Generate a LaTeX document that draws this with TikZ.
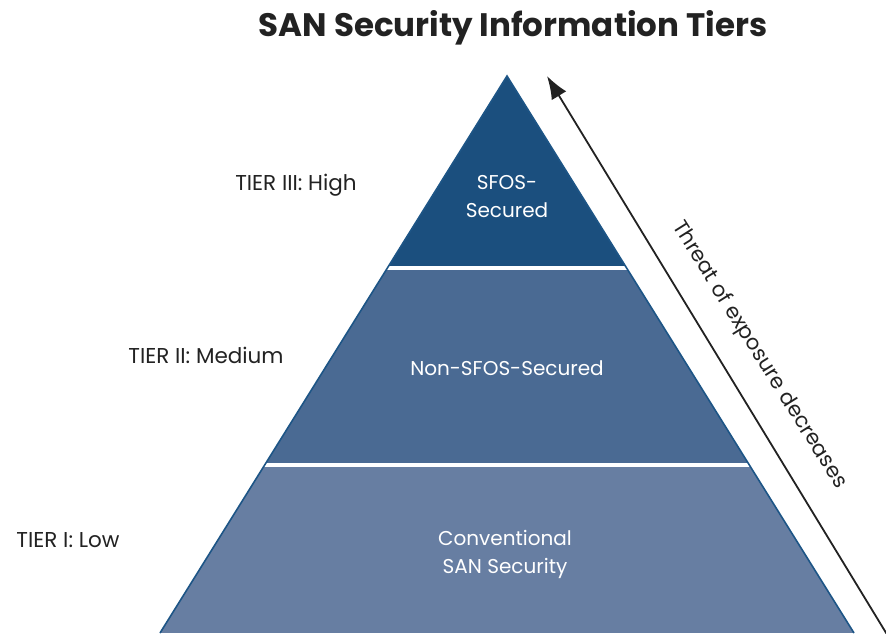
\documentclass[tikz,border=0pt]{standalone}
\usepackage{fontspec}
\setmainfont{Poppins}
\usetikzlibrary{arrows.meta}
\definecolor{tierhigh}{HTML}{1B4F7E}
\definecolor{tiermed}{HTML}{4A6A93}
\definecolor{tierlow}{HTML}{677EA2}
\definecolor{rim}{HTML}{1D5586}
\definecolor{ink}{HTML}{222222}
\tikzset{
  tierlabel/.style={text=ink,font=\fontsize{21.5}{25}\selectfont},
  tiertext/.style={text=white,align=center,font=\fontsize{20}{28}\selectfont},
  threat/.style={ink,line width=1.8pt,-{Latex[length=23pt,width=17pt]}}
}
\begin{document}
\begin{tikzpicture}[x=1pt,y=-1pt]
	  \useasboundingbox (0,0) rectangle (886,633);
	  % pyramid corners
	  \coordinate (apex) at (507,76);
	  \coordinate (bl) at (160,633);
	  \coordinate (br) at (854,633);
	  \begin{scope}
	    \clip (apex) -- (bl) -- (br) -- cycle;
	    \fill[tierlow] (0,465) rectangle (886,633);
	    \fill[tiermed] (0,268) rectangle (886,465);
	    \fill[tierhigh] (0,60) rectangle (886,268);
	    \draw[white,line width=3.5pt] (0,268) -- (886,268);
	    \draw[white,line width=3.5pt] (0,465) -- (886,465);
	  \end{scope}
	  \draw[rim,line width=1.6pt] (bl) -- (apex) -- (br);
	  % title
	  \node[text=ink,font=\fontsize{32.5}{38}\selectfont\bfseries] (title) at (513,28) {SAN Security Information Tiers};
	  % tier names
	  \node[tierlabel] (t3) at (296,185) {TIER III: High};
	  \node[tierlabel] (t2) at (206,355) {TIER II: Medium};
	  \node[tierlabel] (t1) at (68,540) {TIER I: Low};
	  \node[tiertext] (high) at (507,197) {SFOS-\\Secured};
	  \node[tiertext] (med) at (507,368) {Non-SFOS-Secured};
	  \node[tiertext] (low) at (505,554) {Conventional\\SAN Security};
	  % threat arrow
	  \coordinate (tail) at (891,641);
	  \coordinate (tip) at (547,76);
	  \draw[threat] (tail) -- (tip);
	  \node[tierlabel,font=\fontsize{21}{25}\selectfont,rotate=-57.9] (threattext) at (759,355) {Threat of exposure decreases};
	\end{tikzpicture}
\end{document}
